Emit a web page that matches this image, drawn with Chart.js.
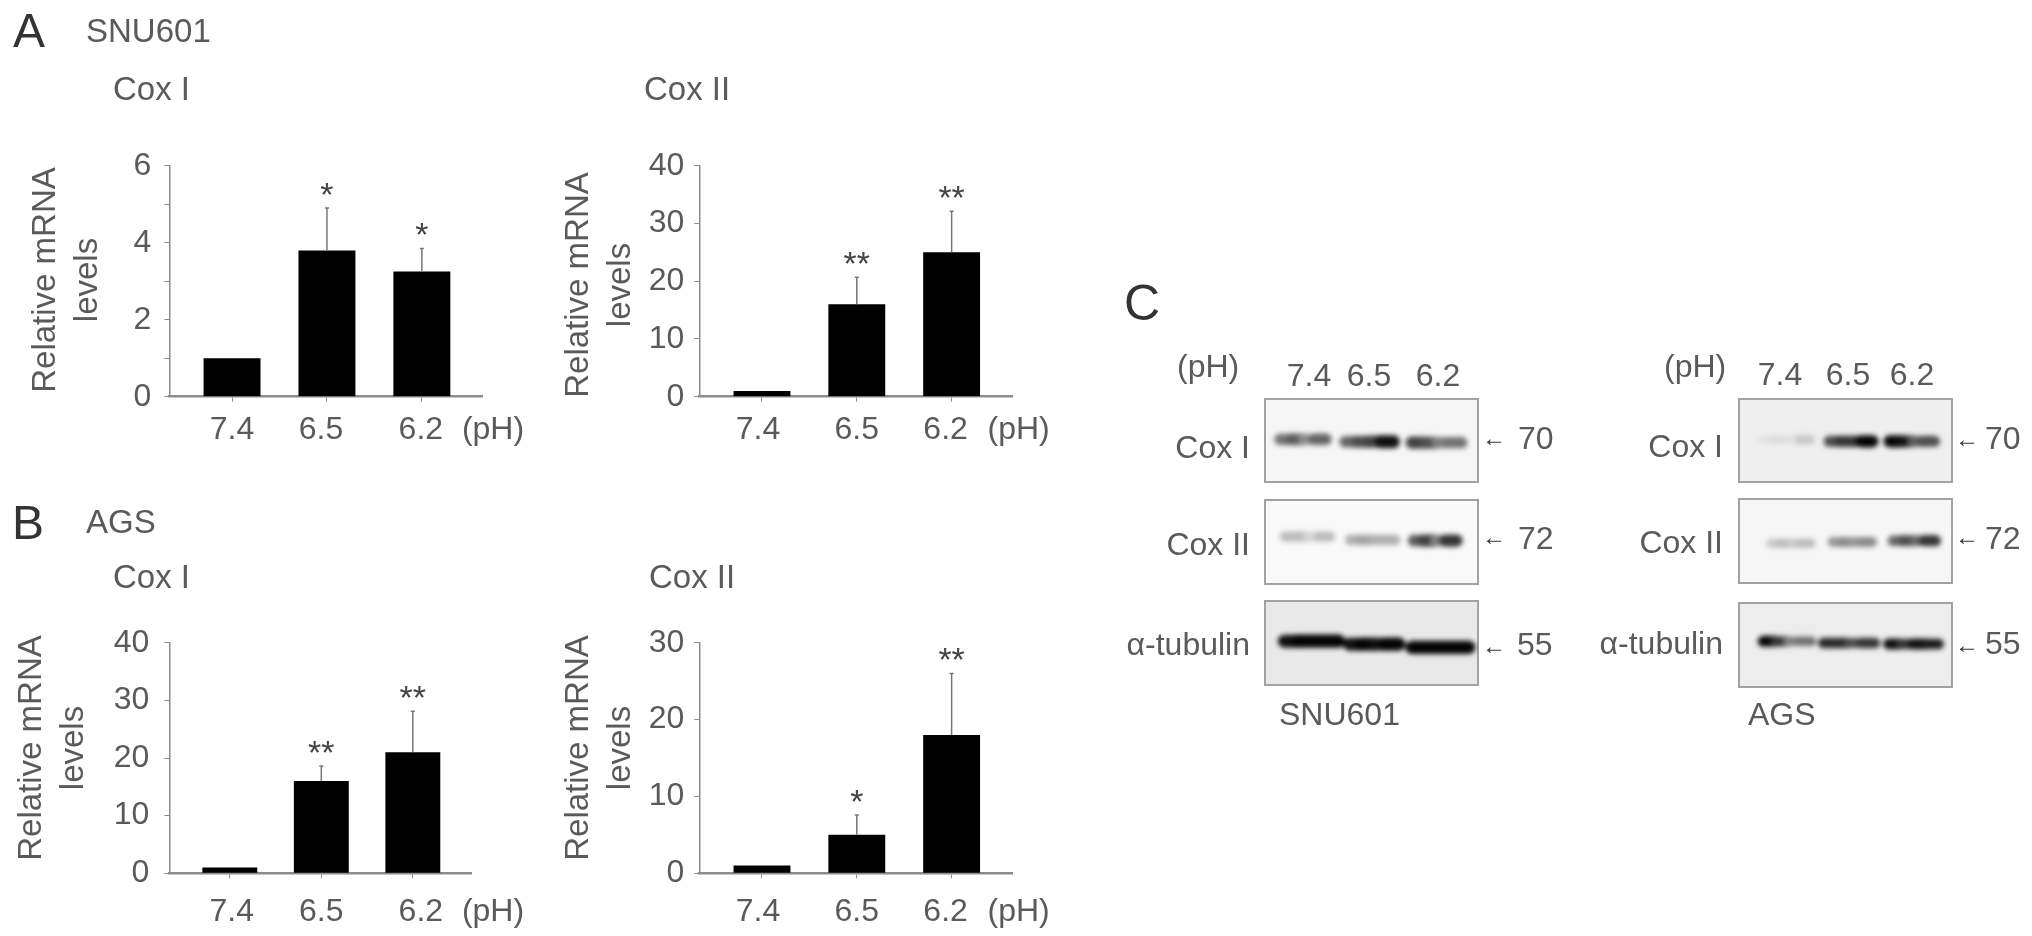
<!DOCTYPE html>
<html>
<head>
<meta charset="utf-8">
<title>Cox I / Cox II</title>
<script src="https://cdn.jsdelivr.net/npm/chart.js@4"></script>
<style>
    html, body { margin: 0; background: #fff; }
    #page { position: relative; width: 2032px; height: 936px; overflow: hidden; filter: blur(0.6px); }
    #page canvas { position: absolute; }
    .txt { position: absolute; font-family: "Liberation Sans", sans-serif; line-height: 1; color: #5a5a5a; white-space: nowrap; }
    .blot { position: absolute; outline: 2px solid #a2a2a2; outline-offset: -1px; overflow: hidden; }
    .blot canvas { left: 0; top: 0; filter: blur(2.6px); }
</style>
</head>
<body>
<div id="page"></div>
<script>
const categories = ["7.4", "6.5", "6.2"];

// bar heights and upper error lengths
const snuCox1Values = [1, 3.8, 3.25];
const snuCox1Errors = [null, 1.1, 0.6];
const snuCox1Stars = ["", "*", "*"];
const snuCox2Values = [1, 16, 25];
const snuCox2Errors = [null, 4.7, 7.1];
const snuCox2Stars = ["", "**", "**"];
const agsCox1Values = [1, 16, 21];
const agsCox1Errors = [null, 2.6, 7.1];
const agsCox1Stars = ["", "**", "**"];
const agsCox2Values = [1, 5, 18];
const agsCox2Errors = [null, 2.6, 8];
const agsCox2Stars = ["", "*", "**"];

// blot bands: lane extent and row in percent of the box, darkness sampled across each band
const snuCox1Lanes = [[7, 28.6], [37.6, 60.3], [68.9, 92.4]];
const snuCox1Rows = [48.6, 51.4, 52.6];
const snuCox1Dark = [[.55, .65, .45, .6, .5], [.6, .7, .75, .95, .9], [.75, .7, .5, .55, .5]];
const snuCox2Lanes = [[9.4, 30.5], [40, 61.2], [69.8, 89.9]];
const snuCox2Rows = [43.6, 47.6, 48.4];
const snuCox2Dark = [[.25, .25, .15, .25, .25], [.3, .35, .3, .3, .3], [.65, .75, .5, .8, .7]];
const snuTubLanes = [[9.1, 34.6], [39.7, 62.8], [69, 95.7]];
const snuTubRows = [47.8, 51.4, 55.3];
const snuTubDark = [[.95, 1, 1, 1, .9], [.95, 1, .95, 1, .9], [1, 1, 1, 1, .95]];
const agsCox1Lanes = [[11.4, 33.7], [42.3, 62.7], [70.7, 91.8]];
const agsCox1Rows = [49, 51, 51];
const agsCox1Dark = [[.1, .12, .1, .2, .3], [.7, .8, .8, 1, .95], [1, .95, .65, .7, .7]];
const agsCox2Lanes = [[14.9, 33.7], [43.9, 62.4], [72.3, 92.2]];
const agsCox2Rows = [52.8, 51.2, 49.6];
const agsCox2Dark = [[.2, .25, .2, .25, .3], [.4, .45, .4, .45, .4], [.6, .7, .6, .8, .85]];
const agsTubLanes = [[11.4, 34.1], [39.6, 63.9], [70.2, 93.7]];
const agsTubRows = [45.6, 47.6, 48.8];
const agsTubDark = [[1, .8, .5, .55, .55], [.85, .85, .7, .8, .8], [.95, .8, .95, .9, .85]];

const page = document.getElementById("page");
const FONT = '"Liberation Sans", sans-serif';
const GREY = "#5a5a5a";
const AXIS = "#8c8c8c";

function addCanvas(parent, left, top, w, h) {
    const c = document.createElement("canvas");
    c.width = w;
    c.height = h;
    c.style.cssText = `left:${left}px;top:${top}px;width:${w}px;height:${h}px`;
    parent.appendChild(c);
    return c;
}

function barPanel(p) {
    const w = 530, h = p.canvasH;
    const canvas = addCanvas(page, p.left, p.top, w, h);
    const marks = {
        id: "marks",
        afterDraw(chart) {
            const ctx = chart.ctx, x = chart.scales.x, y = chart.scales.y;
            ctx.save();
            p.values.forEach((v, i) => {
                const px = x.getPixelForValue(i + 1);
                if (p.errors[i] != null) {
                    const top = y.getPixelForValue(v + p.errors[i]);
                    ctx.strokeStyle = "#777";
                    ctx.lineWidth = 1.5;
                    ctx.beginPath();
                    ctx.moveTo(px, y.getPixelForValue(v));
                    ctx.lineTo(px, top);
                    ctx.moveTo(px - 2, top);
                    ctx.lineTo(px + 2, top);
                    ctx.stroke();
                    ctx.fillStyle = "#444";
                    ctx.font = "34px " + FONT;
                    ctx.textAlign = "center";
                    ctx.textBaseline = "alphabetic";
                    ctx.fillText(p.stars[i], px, top - 2);
                }
                ctx.fillStyle = GREY;
                ctx.font = "32px " + FONT;
                ctx.textAlign = "center";
                ctx.textBaseline = "alphabetic";
                ctx.fillText(categories[i], px + p.nudge[i], y.bottom + p.labelGap);
            });
            ctx.fillText("(pH)", p.phX - p.left, y.bottom + p.labelGap);
            // two line axis title
            ctx.textBaseline = "middle";
            ctx.font = "33px " + FONT;
            [["Relative mRNA", p.titleX[0]], ["levels", p.titleX[1]]].forEach(([t, tx]) => {
                ctx.save();
                ctx.translate(tx - p.left, p.titleY - p.top);
                ctx.rotate(-Math.PI / 2);
                ctx.fillText(t, 0, 0);
                ctx.restore();
            });
            ctx.restore();
        }
    };
    new Chart(canvas, {
        type: "bar",
        data: {
            datasets: [{
                data: p.values.map((v, i) => ({ x: i + 1, y: v })),
                backgroundColor: "#000",
                categoryPercentage: 1,
                barPercentage: 0.6
            }]
        },
        options: {
            responsive: false,
            animation: false,
            layout: {
                autoPadding: false,
                padding: { left: 0, top: p.plotTop - p.top, right: w - (p.plotRight - p.left), bottom: 0 }
            },
            plugins: { legend: { display: false }, tooltip: { enabled: false } },
            scales: {
                x: {
                    type: "linear",
                    min: 0.34,
                    max: 3.64,
                    offset: false,
                    afterBuildTicks: s => { s.ticks = categories.map((c, i) => ({ value: i + 1 })); },
                    afterFit: s => { s.height = p.top + h - p.plotBottom; },
                    ticks: { display: false },
                    grid: { offset: false, drawOnChartArea: false, tickLength: 5, tickColor: AXIS },
                    border: { color: AXIS, width: 2.5 }
                },
                y: {
                    min: 0,
                    max: p.yMax,
                    afterFit: s => { s.width = 169.4; },
                    ticks: {
                        stepSize: p.step,
                        autoSkip: false,
                        padding: p.tickPad,
                        color: GREY,
                        font: { family: FONT, size: 32 },
                        callback: v => (p.minorEvery && v % p.minorEvery ? "" : v)
                    },
                    grid: { drawOnChartArea: false, tickLength: 5, tickColor: AXIS },
                    border: { color: AXIS, width: 1.5 }
                }
            }
        },
        plugins: [marks]
    });
}

barPanel({ left: 0, top: 130, canvasH: 330, plotTop: 165.7, plotBottom: 396.7, plotRight: 482.6,
    values: snuCox1Values, errors: snuCox1Errors, stars: snuCox1Stars, yMax: 6, step: 1, minorEvery: 2, tickPad: 13,
    nudge: [0, -6, -1], labelGap: 42.5, phX: 493, titleX: [45.6, 87.7], titleY: 280 });
barPanel({ left: 530, top: 130, canvasH: 330, plotTop: 165.7, plotBottom: 396.7, plotRight: 1012.3,
    values: snuCox2Values, errors: snuCox2Errors, stars: snuCox2Stars, yMax: 40, step: 10, tickPad: 10,
    nudge: [-4, 0, -6], labelGap: 42.5, phX: 1018.6, titleX: [578.7, 620.8], titleY: 285 });
barPanel({ left: 0, top: 605, canvasH: 331, plotTop: 642.7, plotBottom: 873.3, plotRight: 471.4,
    values: agsCox1Values, errors: agsCox1Errors, stars: agsCox1Stars, yMax: 40, step: 10, tickPad: 15,
    nudge: [2, 0, 8], labelGap: 47.5, phX: 493, titleX: [31.6, 73.6], titleY: 748 });
barPanel({ left: 530, top: 605, canvasH: 331, plotTop: 642.7, plotBottom: 873.3, plotRight: 1012.3,
    values: agsCox2Values, errors: agsCox2Errors, stars: agsCox2Stars, yMax: 30, step: 10, tickPad: 10,
    nudge: [-4, 0, -6], labelGap: 47.5, phX: 1018.6, titleX: [578.7, 620.8], titleY: 748 });

function gray(d) {
    const g = Math.round(255 * (1 - d) * 0.96 + 4);
    return `rgb(${g},${g},${g})`;
}

function blot(b) {
    const box = document.createElement("div");
    box.className = "blot";
    box.style.cssText = `left:${b.left}px;top:${b.top}px;width:${b.w}px;height:${b.h}px;background:${b.bg}`;
    page.appendChild(box);
    const canvas = addCanvas(box, 0, 0, b.w, b.h);
    const datasets = b.lanes.map((lane, i) => {
        const dark = b.dark[i];
        return {
            data: dark.map((d, k) => ({ x: lane[0] + (lane[1] - lane[0]) * k / (dark.length - 1), y: b.rows[i] })),
            pointRadius: 0,
            tension: 0,
            borderCapStyle: "round",
            borderWidth: b.band,
            borderColor: gray(dark[0]),
            segment: {
                borderColor: c => gray(dark[c.p0DataIndex]),
                borderWidth: c => b.band * (0.75 + 0.35 * dark[c.p0DataIndex])
            }
        };
    });
    new Chart(canvas, {
        type: "line",
        data: { datasets },
        options: {
            responsive: false,
            animation: false,
            layout: { autoPadding: false },
            plugins: { legend: { display: false }, tooltip: { enabled: false } },
            scales: {
                x: { type: "linear", min: 0, max: 100, display: false },
                y: { type: "linear", min: 0, max: 100, reverse: true, display: false }
            }
        }
    });
}

blot({ left: 1265, top: 399, w: 213, h: 83, bg: "#f6f6f6", band: 12, lanes: snuCox1Lanes, rows: snuCox1Rows, dark: snuCox1Dark });
blot({ left: 1265, top: 500, w: 213, h: 84, bg: "#f9f9f9", band: 12, lanes: snuCox2Lanes, rows: snuCox2Rows, dark: snuCox2Dark });
blot({ left: 1265, top: 601, w: 213, h: 84, bg: "#e9e9e9", band: 12, lanes: snuTubLanes, rows: snuTubRows, dark: snuTubDark });
blot({ left: 1739, top: 399, w: 213, h: 83, bg: "#efefef", band: 11, lanes: agsCox1Lanes, rows: agsCox1Rows, dark: agsCox1Dark });
blot({ left: 1739, top: 499, w: 213, h: 84, bg: "#f6f6f6", band: 11, lanes: agsCox2Lanes, rows: agsCox2Rows, dark: agsCox2Dark });
blot({ left: 1739, top: 603, w: 213, h: 84, bg: "#ededed", band: 10, lanes: agsTubLanes, rows: agsTubRows, dark: agsTubDark });

// loose text: x is the anchor, y the baseline
function text(str, x, y, opts) {
    const o = opts || {};
    const size = o.size || 32;
    const d = document.createElement("div");
    d.className = "txt";
    d.textContent = str;
    const shift = o.align === "right" ? "-100%" : o.align === "center" ? "-50%" : "0";
    d.style.cssText = `left:${x}px;top:${y - 0.8465 * size}px;font-size:${size}px;transform:translateX(${shift});` +
        (o.color ? `color:${o.color};` : "");
    page.appendChild(d);
}

text("A", 13, 48, { size: 48, color: "#333" });
text("B", 12, 540, { size: 48, color: "#333" });
text("C", 1124, 320, { size: 50, color: "#333" });
text("SNU601", 86, 42, { size: 33 });
text("AGS", 86, 533, { size: 33 });
text("Cox I", 113, 100, { size: 33 });
text("Cox II", 644, 100, { size: 33 });
text("Cox I", 113, 588, { size: 33 });
text("Cox II", 649, 588, { size: 33 });

text("(pH)", 1177, 377);
["7.4", "6.5", "6.2"].forEach((t, i) => text(t, [1309, 1369, 1438][i], 386, { align: "center" }));
text("Cox I", 1250, 458, { align: "right" });
text("Cox II", 1250, 555, { align: "right" });
text("α-tubulin", 1250, 655, { align: "right" });
text("70", 1518, 449);
text("72", 1518, 549);
text("55", 1517, 655);
[446, 545, 654].forEach(y => text("←", 1482, y, { size: 24, color: "#333" }));
text("SNU601", 1279, 725);

text("(pH)", 1664, 377);
["7.4", "6.5", "6.2"].forEach((t, i) => text(t, [1780, 1848, 1912][i], 385, { align: "center" }));
text("Cox I", 1723, 457, { align: "right" });
text("Cox II", 1723, 553, { align: "right" });
text("α-tubulin", 1723, 654, { align: "right" });
text("70", 1985, 449);
text("72", 1985, 549);
text("55", 1985, 654);
[447, 545, 653].forEach(y => text("←", 1955, y, { size: 24, color: "#333" }));
text("AGS", 1748, 725);
</script>
</body>
</html>
